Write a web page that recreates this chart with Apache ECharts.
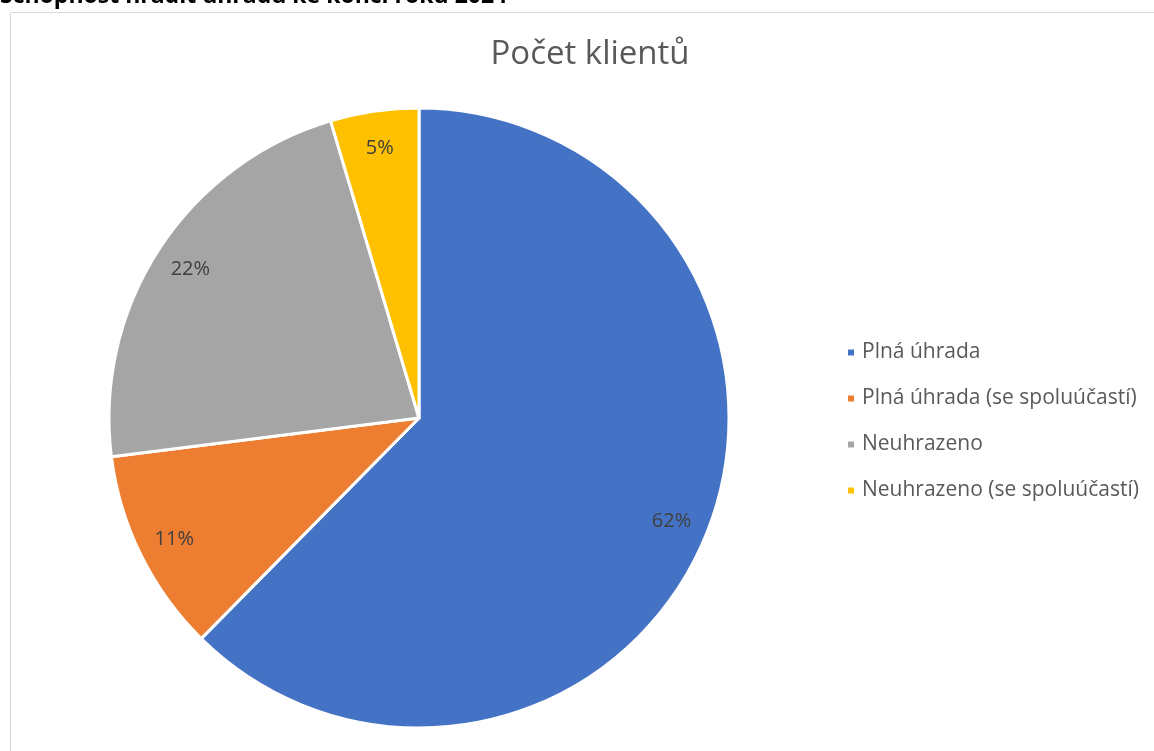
<!DOCTYPE html>
<html><head><meta charset="utf-8">
<script src="https://cdn.jsdelivr.net/npm/echarts@6/dist/echarts.min.js"></script>
<style>html,body{margin:0;padding:0;background:#fff}#c{width:1154px;height:751px}</style>
</head><body><div id="c"></div>
<script>
var categories = ['Plná úhrada', 'Plná úhrada (se spoluúčastí)', 'Neuhrazeno', 'Neuhrazeno (se spoluúčastí)'];
var values = [62.4, 10.6, 22.4, 4.6];
var colors = ['#4472C4', '#ED7D31', '#A5A5A5', '#FFC000'];
var chartTitle = 'Počet klientů';
var headerText = 'Schopnost hradit úhradu ke konci roku 2024';

var data = categories.map(function (c, i) {
  return { name: c, value: values[i], itemStyle: { color: colors[i] } };
});
var font = '"Open Sans", "Noto Sans", sans-serif';
var chart = echarts.init(document.getElementById('c'));
chart.setOption({
  animation: false,
  graphic: [
    { type: 'rect', left: 8, top: 10, shape: { width: 1300, height: 900 }, style: { fill: 'none', stroke: '#d9d9d9', lineWidth: 1 }, z: -1 },
    { type: 'text', left: 0, top: -15, style: { text: headerText, font: 'bold 23px ' + font, fill: '#000' } }
  ],
  title: {
    text: chartTitle, left: 585, top: 33, textAlign: 'center',
    textStyle: { fontFamily: font, fontSize: 33, fontWeight: 'normal', color: '#595959' }
  },
  legend: {
    orient: 'vertical', left: 841, top: 337, itemWidth: 8, itemHeight: 8, itemGap: 25, icon: 'rect',
    data: categories,
    textStyle: { fontFamily: font, fontSize: 21, color: '#595959', padding: [0, 0, 0, 2] }
  },
  series: [
    {
      type: 'pie', center: [419, 418], radius: 310, startAngle: 90, clockwise: true,
      data: data, label: { show: false }, labelLine: { show: false },
      itemStyle: { borderColor: '#fff', borderWidth: 3 }
    },
    {
      type: 'pie', center: [419, 418], radius: [230, 310], startAngle: 90, clockwise: true, silent: true,
      percentPrecision: 0,
      data: data.map(function (d) { return { name: d.name, value: d.value, itemStyle: { color: 'transparent' } }; }),
      label: { show: true, position: 'inside', formatter: '{d}%', fontFamily: font, fontSize: 20, color: '#404040' },
      labelLine: { show: false }, legendHoverLink: false
    }
  ]
});
</script></body></html>
